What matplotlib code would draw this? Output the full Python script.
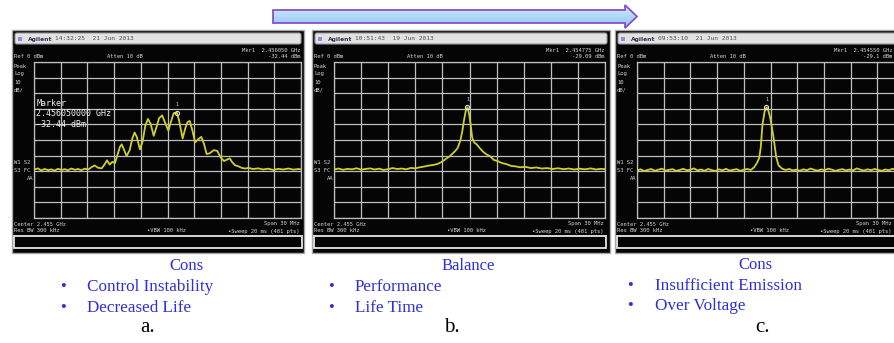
import numpy as np
import matplotlib
matplotlib.use('Agg')
from matplotlib import pyplot as plt
from matplotlib.patches import Rectangle, FancyBboxPatch, Polygon

### Trace data (MHz, dBm)
freq_a = [2440.0, 2440.45, 2440.8, 2441.2, 2441.6, 2441.95, 2442.3, 2442.7, 2443.1, 2443.45,
          2443.8, 2444.2, 2444.6, 2444.95, 2445.3, 2445.7, 2446.1, 2446.45, 2446.8, 2447.2,
          2447.6, 2447.95, 2448.2, 2448.5, 2448.8, 2449.1, 2449.35, 2449.65, 2449.85, 2450.1,
          2450.4, 2450.75, 2451.05, 2451.3, 2451.55, 2451.9, 2452.2, 2452.5, 2452.8, 2453.1,
          2453.45, 2453.75, 2454.05, 2454.4, 2454.7, 2455.1, 2455.4, 2455.7, 2456.05, 2456.3,
          2456.7, 2457.0, 2457.25, 2457.5, 2457.8, 2458.1, 2458.45, 2458.8, 2459.1, 2459.4,
          2459.75, 2460.2, 2460.6, 2460.95, 2461.35, 2461.7, 2462.0, 2462.3, 2462.6, 2462.95,
          2463.3, 2463.7, 2464.1, 2464.6, 2465.2, 2465.75, 2466.3, 2466.9, 2467.45, 2468.0,
          2468.6, 2469.15, 2469.7, 2470.0]
level_a = [-69.0, -68.2, -69.5, -68.6, -69.3, -68.8, -69.6, -68.5, -69.2, -68.7,
           -69.4, -68.3, -69.1, -68.6, -69.3, -68.4, -68.9, -67.5, -66.3, -67.8,
           -68.2, -65.5, -63.0, -65.8, -64.0, -64.8, -60.0, -54.5, -52.8, -56.0,
           -60.3, -56.5, -49.0, -45.2, -48.0, -56.0, -51.0, -41.0, -36.5, -39.5,
           -47.3, -42.0, -36.0, -34.2, -38.5, -44.0, -38.0, -32.8, -32.4, -37.5,
           -49.0, -42.5, -38.5, -37.8, -44.0, -51.5, -49.5, -48.0, -52.5, -59.0,
           -58.5, -56.5, -57.0, -61.0, -63.5, -62.5, -61.8, -64.5, -66.2, -66.8,
           -67.8, -68.3, -67.9, -68.6, -68.2, -68.9, -68.4, -69.2, -68.5, -68.9,
           -68.3, -69.0, -68.6, -68.8]

freq_b = [2440.0, 2440.5, 2441.0, 2441.5, 2442.0, 2442.5, 2443.0, 2443.5, 2444.0, 2444.5,
          2445.0, 2445.5, 2446.0, 2446.5, 2447.0, 2447.5, 2448.0, 2448.5, 2449.0, 2449.5,
          2450.0, 2450.5, 2451.0, 2451.5, 2452.0, 2452.4, 2452.8, 2453.1, 2453.4, 2453.7,
          2454.0, 2454.2, 2454.4, 2454.6, 2454.78, 2454.95, 2455.1, 2455.3, 2455.5, 2455.8,
          2456.1, 2456.5, 2456.9, 2457.3, 2457.7, 2458.1, 2458.6, 2459.1, 2459.6, 2460.1,
          2460.6, 2461.2, 2461.8, 2462.4, 2463.0, 2463.6, 2464.2, 2464.8, 2465.4, 2466.0,
          2466.6, 2467.2, 2467.8, 2468.4, 2469.0, 2469.5, 2470.0]
level_b = [-68.9, -68.3, -69.1, -68.5, -68.8, -68.1, -69.0, -68.6, -68.2, -68.9,
           -68.4, -69.2, -68.7, -68.0, -68.6, -68.3, -68.8, -67.9, -68.2, -67.5,
           -67.0, -66.4, -66.0, -65.3, -63.8, -62.0, -60.5, -58.8, -57.2, -55.0,
           -50.0, -44.5, -37.0, -31.0, -29.1, -33.0, -39.0, -48.5, -51.5, -52.8,
           -55.0, -57.5, -59.3, -60.5, -62.8, -63.5, -64.8, -65.5, -66.6, -66.9,
           -67.5, -67.2, -68.0, -67.6, -68.3, -68.0, -68.6, -68.1, -68.7, -68.3,
           -68.9, -68.4, -68.8, -68.2, -68.9, -68.5, -68.7]

freq_c = [2440.0, 2440.4, 2440.8, 2441.2, 2441.6, 2442.0, 2442.4, 2442.8, 2443.2, 2443.6,
          2444.0, 2444.4, 2444.8, 2445.2, 2445.6, 2446.0, 2446.4, 2446.8, 2447.2, 2447.6,
          2448.0, 2448.4, 2448.8, 2449.2, 2449.6, 2450.0, 2450.4, 2450.8, 2451.2, 2451.6,
          2452.0, 2452.4, 2452.8, 2453.16, 2453.5, 2453.73, 2453.9, 2454.1, 2454.35, 2454.55,
          2454.75, 2454.96, 2455.13, 2455.33, 2455.5, 2455.64, 2455.9, 2456.28, 2456.7, 2457.1,
          2457.5, 2457.9, 2458.3, 2458.7, 2459.1, 2459.5, 2459.9, 2460.3, 2460.7, 2461.1,
          2461.5, 2461.9, 2462.3, 2462.7, 2463.1, 2463.5, 2463.9, 2464.3, 2464.7, 2465.1,
          2465.5, 2465.9, 2466.3, 2466.7, 2467.1, 2467.5, 2467.9, 2468.3, 2468.7, 2469.1,
          2469.5, 2470.0]
level_c = [-69.5, -68.8, -69.9, -69.2, -68.6, -69.7, -69.0, -68.4, -69.6, -69.1,
           -68.7, -69.8, -69.2, -68.5, -69.4, -69.0, -68.2, -69.5, -68.9, -69.7,
           -68.6, -69.3, -69.9, -68.8, -69.4, -68.5, -69.6, -69.1, -68.7, -69.8,
           -69.0, -68.6, -69.2, -67.5, -64.5, -61.5, -55.0, -40.0, -31.5, -29.1,
           -31.0, -35.5, -41.0, -48.0, -55.0, -61.0, -66.2, -68.3, -69.2, -68.6,
           -69.5, -69.0, -69.7, -68.8, -69.4, -68.3, -69.1, -69.6, -68.9, -69.3,
           -68.4, -69.0, -69.8, -69.1, -68.7, -69.5, -68.9, -69.4, -68.2, -69.0,
           -69.6, -68.8, -69.3, -68.6, -69.2, -69.7, -68.9, -69.4, -68.5, -69.1,
           -68.8, -69.3]

marker_freq = [2456.05, 2454.775, 2454.55]
marker_level = [-32.44, -29.09, -29.1]
marker_freq_txt = ['2.456050 GHz', '2.454775 GHz', '2.454550 GHz']
marker_level_txt = ['-32.44 dBm', '-29.09 dBm', '-29.1 dBm']
screen_times = ['14:32:25  21 Jun 2013', '10:51:43  19 Jun 2013', '09:53:10  21 Jun 2013']

titles = ['Cons', 'Balance', 'Cons']
bullets = [['Control Instability', 'Decreased Life'],
           ['Performance', 'Life Time'],
           ['Insufficient Emission', 'Over Voltage']]
letters = ['a.', 'b.', 'c.']

W, H = 894, 343
TRACE = '#cfcf2c'
GRIDC = '#bebebe'
SCR_TXT = '#d4d4d4'
MONO = 'DejaVu Sans Mono'

fig = plt.figure(figsize=(W / 100, H / 100), dpi=100)
fig.patch.set_facecolor('white')
bg = fig.add_axes([0, 0, 1, 1])
bg.set_xlim(0, W)
bg.set_ylim(H, 0)
bg.axis('off')

### screen geometry in pixels: outer left/right, grid left/right, right edge for readouts
screens = [(12, 304, 34, 301, 300), (312, 610, 334, 605, 604), (615, 908, 637, 904, 892)]
gy0, gy1 = 62, 218

def screen_text(x, y, s, ha='left', size=4):
    bg.text(x, y, s, fontsize=size, family=MONO, color=SCR_TXT, ha=ha, va='center', zorder=3)

def draw_screen(k):
    x0, x1, gx0, gx1, rx = screens[k]
    bg.add_patch(Rectangle((x0, 30), x1 - x0, 223, facecolor='#050505',
                           edgecolor='#a8a8a8', lw=1.0, zorder=1))
    bg.add_patch(FancyBboxPatch((x0 + 3, 33), x1 - x0 - 6, 11,
                                boxstyle='round,pad=0,rounding_size=2',
                                facecolor='#e2e2e2', edgecolor='#9a9a9a', lw=0.8, zorder=2))
    bg.add_patch(Rectangle((x0 + 6, 36.5), 4, 4, facecolor='#8c8cf0', edgecolor='none', zorder=3))
    bg.text(x0 + 16, 39, 'Agilent', fontsize=4.3, fontweight='bold', color='#303050',
            va='center', ha='left', zorder=3)
    bg.text(x0 + 43, 39, screen_times[k], fontsize=4.5, family=MONO, color='#505050',
            va='center', ha='left', zorder=3)
    # header texts
    screen_text(rx, 50, 'Mkr1  ' + marker_freq_txt[k], ha='right')
    screen_text(rx, 57, marker_level_txt[k], ha='right')
    screen_text(x0 + 2, 57, 'Ref 0 dBm')
    screen_text(x0 + 95, 57, 'Atten 10 dB')
    for i, s in enumerate(['Peak', 'Log', '10', 'dB/']):
        screen_text(x0 + 2, 66 + 8 * i, s)
    screen_text(x0 + 2, 163, 'W1 S2')
    screen_text(x0 + 2, 171, 'S3 FC')
    screen_text(gx0 - 1, 179, 'AA', ha='right')
    # footer texts
    screen_text(x0 + 2, 224, 'Center 2.455 GHz')
    screen_text(rx, 224, 'Span 30 MHz', ha='right')
    screen_text(x0 + 2, 231, 'Res BW 300 kHz')
    screen_text(x0 + 135, 231, '\u2022VBW 100 kHz')
    screen_text(rx, 231, '\u2022Sweep 20 ms (401 pts)', ha='right')
    bg.add_patch(Rectangle((x0 + 2, 236), gx1 - x0 - 1, 12, facecolor='#050505',
                           edgecolor='#e6e6e6', lw=1.3, zorder=3))

    ax = fig.add_axes([gx0 / W, 1 - gy1 / H, (gx1 - gx0) / W, (gy1 - gy0) / H])
    ax.set_facecolor('#050505')
    ax.set_xlim(2440, 2470)
    ax.set_ylim(-100, 0)
    ax.set_xticks(np.arange(2440, 2471, 3))
    ax.set_yticks(np.arange(-100, 1, 10))
    ax.grid(True, color=GRIDC, lw=0.9)
    ax.tick_params(length=0, labelbottom=False, labelleft=False)
    for sp in ax.spines.values():
        sp.set_color(GRIDC)
        sp.set_linewidth(0.9)
    return ax

def draw_text_block(title, items, cx, bx, tx, ytop):
    blue = '#2f2fd8'
    bg.text(cx, ytop, title, family='Liberation Serif', fontsize=12, color=blue,
            ha='center', va='center')
    for i, s in enumerate(items):
        y = ytop + 21 + 20.5 * i
        bg.text(bx, y, '\u2022', family='Liberation Serif', fontsize=12, color=blue,
                ha='center', va='center')
        bg.text(tx, y, s, family='Liberation Serif', fontsize=12.3, color=blue,
                ha='left', va='center')

axes = []
for k in range(3):
    axes.append(draw_screen(k))

traces = [(freq_a, level_a), (freq_b, level_b), (freq_c, level_c)]
for k, ax in enumerate(axes):
    f, lv = traces[k]
    ax.plot(f, lv, color=TRACE, lw=1.3, zorder=4)
    ax.plot(marker_freq[k], marker_level[k], marker='o', ms=3, mfc='none', mec='#e0e0e0',
            mew=0.8, zorder=5)
    ax.text(marker_freq[k], marker_level[k] + 3.5, '1', fontsize=3.5, family=MONO,
            color='#e0e0e0', ha='center', va='bottom', zorder=5)

### marker read-out on the first screen
axes[0].text(0.008, 0.76, 'Marker\n2.456050000 GHz\n-32.44 dBm', transform=axes[0].transAxes,
             fontsize=6, family=MONO, color='#f0f0f0', ha='left', va='top', linespacing=1.15)

### text under the screens
draw_text_block(titles[0], bullets[0], 186, 63, 87, 266)
draw_text_block(titles[1], bullets[1], 468, 331, 355, 266)
draw_text_block(titles[2], bullets[2], 755, 630, 655, 265)
for cx, s in zip([148, 452, 762], letters):
    bg.text(cx, 328, s, family='Liberation Serif', fontsize=15, color='black',
            ha='center', va='center')

### arrow on top
arrow_pts = [(273, 10), (625, 10), (625, 5), (637, 16.5), (625, 28), (625, 23), (273, 23)]
arrow = Polygon(arrow_pts, closed=True, facecolor='none', edgecolor='#8a4fc8', lw=1.3, zorder=6)
bg.add_patch(arrow)
grad = np.linspace(0, 1, 50).reshape(-1, 1)
img = bg.imshow(grad, extent=(273, 637, 28, 5), cmap=matplotlib.colors.LinearSegmentedColormap.from_list(
    'arr', ['#d4e9fd', '#8fc6f6']), aspect='auto', zorder=5)
img.set_clip_path(arrow)
bg.set_xlim(0, W)
bg.set_ylim(H, 0)

fig.savefig('out.png', dpi=100)
